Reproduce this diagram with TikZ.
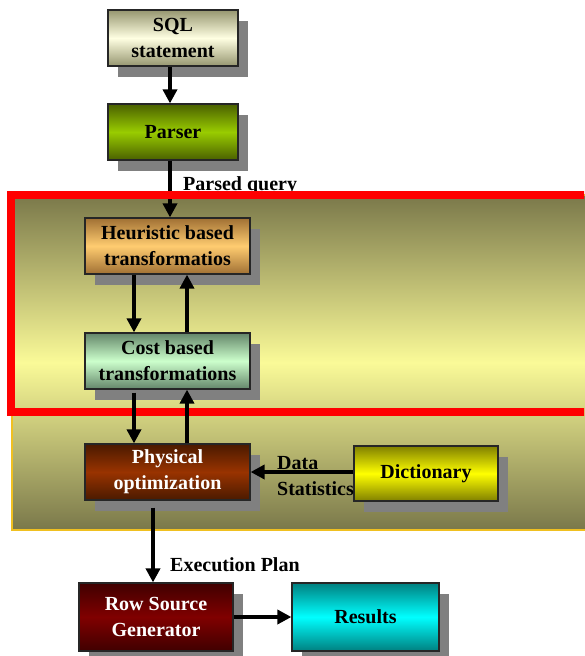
\documentclass[tikz,border=0pt]{standalone}
\usepackage{fontspec}
\setmainfont{Liberation Serif}
\usetikzlibrary{arrows.meta,shadows,backgrounds}

\begin{document}
\begin{tikzpicture}[x=1pt, y=-1pt, every node/.style={font=\fontsize{20}{26}\selectfont\bfseries}]
        \definecolor{sqledge}{RGB}{150,150,112}
        \definecolor{sqlmid}{RGB}{255,255,226}
        \definecolor{parseredge}{RGB}{74,96,0}
        \definecolor{parsermid}{RGB}{153,204,0}
        \definecolor{heuredge}{RGB}{160,112,52}
        \definecolor{heurmid}{RGB}{255,204,112}
        \definecolor{costedge}{RGB}{100,134,106}
        \definecolor{costmid}{RGB}{204,255,204}
        \definecolor{physedge}{RGB}{74,26,0}
        \definecolor{physmid}{RGB}{153,51,0}
        \definecolor{dictedge}{RGB}{128,128,0}
        \definecolor{dictmid}{RGB}{255,255,0}
        \definecolor{rowedge}{RGB}{64,0,0}
        \definecolor{rowmid}{RGB}{128,0,0}
        \definecolor{resedge}{RGB}{0,128,128}
        \definecolor{resmid}{RGB}{0,255,255}
        \definecolor{bgdark}{RGB}{122,120,74}
        \definecolor{bglight}{RGB}{250,250,152}
        \definecolor{bggold}{RGB}{240,192,32}

        \tikzset{
            box/.style={draw=black!85, line width=1.2pt, align=center, inner sep=0pt,
                drop shadow={shadow xshift=10pt, shadow yshift=-11pt, opacity=1, fill=black!50}},
            arr/.style={line width=4pt, -{Triangle[length=14pt,width=14pt]}}
        }

        \clip (0,0) rectangle (584,656);

        % Main chain
        \node[box, top color=sqledge, bottom color=sqledge, middle color=sqlmid, minimum width=130pt, minimum height=56pt] (sql) at (173,38) {SQL\\statement};
        \node[box, top color=parseredge, bottom color=parseredge, middle color=parsermid, minimum width=130pt, minimum height=56pt] (parser) at (173,132) {Parser};

        % Optimizer boxes
        \node[box, top color=heuredge, bottom color=heuredge, middle color=heurmid, minimum width=165pt, minimum height=56pt] (heur) at (167.5,246) {Heuristic based\\transformatios};
        \node[box, top color=costedge, bottom color=costedge, middle color=costmid, minimum width=165pt, minimum height=56pt] (cost) at (167.5,361) {Cost based\\transformations};
        \node[box, top color=physedge, bottom color=physedge, middle color=physmid, text=white, minimum width=165pt, minimum height=56pt] (phys) at (167.5,472) {Physical\\optimization};
        \node[box, top color=dictedge, bottom color=dictedge, middle color=dictmid, minimum width=144pt, minimum height=55pt] (dict) at (426,473.5) {Dictionary};

        % Output boxes
        \node[box, top color=rowedge, bottom color=rowedge, middle color=rowmid, text=white, minimum width=154pt, minimum height=68pt] (rsg) at (156,617) {Row Source\\Generator};
        \node[box, top color=resedge, bottom color=resedge, middle color=resmid, minimum width=147pt, minimum height=68pt] (res) at (365.5,617) {Results};

        % Labels
        \node[anchor=base west, inner sep=0pt] (parsedlbl) at (183,190) {Parsed query};
        \node[anchor=west, align=left, inner sep=0pt] (statslbl) at (277,476) {Data\\Statistics};
        \node[anchor=base west, inner sep=0pt] (planlbl) at (170,571) {Execution Plan};

        % Optimizer background
        \begin{scope}[on background layer]
            \draw[draw=bggold, line width=1.5pt, top color=bgdark, bottom color=bgdark, middle color=bglight] (12,195) rectangle (600,530);
        \end{scope}

        % Arrows
        \draw[arr] ([xshift=-3pt]sql.south) -- ([xshift=-3pt]parser.north);
        \draw[arr] ([xshift=-3pt]parser.south) -- ([xshift=2.5pt]heur.north);
        \draw[red, line width=8pt] (11,195) rectangle (600,412);
        \draw[arr] ([xshift=-33.5pt]heur.south) -- ([xshift=-33.5pt]cost.north);
        \draw[arr] ([xshift=19.5pt]cost.north) -- ([xshift=19.5pt]heur.south);
        \draw[arr] ([xshift=-33.5pt,yshift=-3pt]cost.south) -- ([xshift=-33.5pt]phys.north);
        \draw[arr] ([xshift=19.5pt]phys.north) -- ([xshift=19.5pt]cost.south);
        \draw[arr] (dict.west |- phys.east) -- (phys.east);
        \draw[arr] ([xshift=-14.5pt,yshift=-7pt]phys.south) -- ([xshift=-3pt]rsg.north);
        \draw[arr] (rsg.east) -- (res.west);
    \end{tikzpicture}
\end{document}
